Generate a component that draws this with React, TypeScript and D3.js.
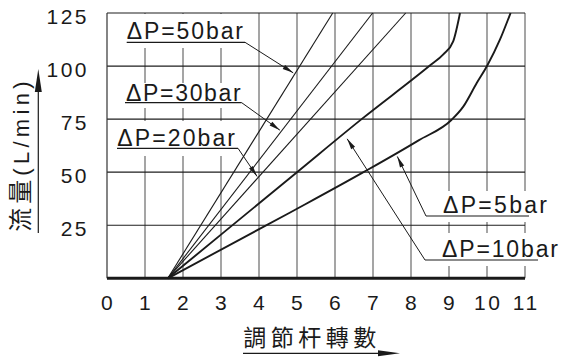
import React from 'react';
import * as d3 from 'd3';

// ---- data ----
const xTicks = [0, 1, 2, 3, 4, 5, 6, 7, 8, 9, 10, 11];
const yTicks = [25, 50, 75, 100, 125];

const s50: [number, number][] = [[1.6, 0], [5.94, 125]];
const s30: [number, number][] = [[1.6, 0], [6.99, 125]];
const s20: [number, number][] = [[1.6, 0], [7.86, 125]];
const s10: [number, number][] = [[1.6, 0], [5.0, 50], [6.7, 75], [8.48, 100], [8.85, 105.5], [9.11, 111.6], [9.29, 125]];
const s5: [number, number][] = [[1.6, 0], [4.82, 31], [6.75, 50], [8.2, 65], [9.07, 74.7], [9.38, 81], [9.73, 92], [10.0, 100], [10.34, 112.4], [10.62, 125]];

const seriesNames = ['ΔP=50bar', 'ΔP=30bar', 'ΔP=20bar', 'ΔP=10bar', 'ΔP=5bar'];
// arrow tips in data coordinates
const tips: [number, number][] = [[4.9, 96.8], [4.55, 69.8], [3.95, 48], [6.32, 65.7], [7.64, 57.4]];

const xLabel = '調節杆轉數';
const yLabelCJK = '流量';
const yLabelUnit = '(L/min)';

// ---- layout ----
const W = 564, H = 357;
const L = 107, R = 525, T = 13, B = 278.3;
const FONT = '"Liberation Sans", Arial, "Noto Sans CJK TC", sans-serif';
const CJK = '"Noto Sans CJK TC", "Noto Sans CJK SC", sans-serif';

const x = d3.scaleLinear().domain([0, 11]).range([L, R]);
const y = d3.scaleLinear().domain([0, 125]).range([B, T]);

const lineGen = d3.line<[number, number]>().x(d => x(d[0])).y(d => y(d[1])).curve(d3.curveMonotoneX);

// label layout (pixels)
const labelLayout = [
  { tx: 126.7, ty: 39.3, tl: 116.3, ux1: 126.7, ux2: 245, uy: 42.3, sx: 245, box: [118, 14, 132, 34] },
  { tx: 126, ty: 100.7, tl: 114.7, ux1: 125, ux2: 241.7, uy: 102.7, sx: 241.7, box: [118, 83, 128, 25] },
  { tx: 117.3, ty: 146, tl: 117.7, ux1: 117, ux2: 238, uy: 148.3, sx: 238, box: [112, 121, 130, 35] },
  { tx: 442, ty: 257, tl: 116, ux1: 425, ux2: 538, uy: 260, sx: 425, box: [420, 233, 142, 33] },
  { tx: 443, ty: 213.3, tl: 104, ux1: 426, ux2: 529, uy: 216, sx: 426, box: [421, 191, 130, 31] },
];

function arrowHead(sx: number, sy: number, tx: number, ty: number, len: number, hw: number) {
  const dx = tx - sx, dy = ty - sy;
  const d = Math.sqrt(dx * dx + dy * dy);
  const ux = dx / d, uy = dy / d;
  const bx = tx - ux * len, by = ty - uy * len;
  const px = -uy * hw, py = ux * hw;
  return `M${tx},${ty}L${bx + px},${by + py}L${bx - px},${by - py}Z`;
}

export default function App() {
  const series = [s50, s30, s20, s10, s5];
  const widths = [1.1, 1.1, 1.1, 1.9, 1.9];
  return (
    <svg width={W} height={H} style={{ position: 'absolute', left: 0, top: 0, background: '#fff' }}>
      <rect x={0} y={0} width={W} height={H} fill="#fff" />
      {/* vertical grid */}
      {xTicks.filter(t => t > 0).map(t => (
        <line key={'v' + t} x1={x(t)} x2={x(t)} y1={T} y2={B} stroke="#8f8f8f" strokeWidth={1.6} />
      ))}
      {/* white label boxes */}
      {labelLayout.map((lb, i) => (
        <rect key={'b' + i} x={lb.box[0]} y={lb.box[1]} width={lb.box[2]} height={lb.box[3]} fill="#fff" />
      ))}
      {/* horizontal grid */}
      {yTicks.map(t => (
        <line key={'h' + t} x1={L} x2={R} y1={y(t)} y2={y(t)} stroke="#1e1e1e" strokeWidth={1.2} />
      ))}
      <line x1={L} x2={L} y1={T} y2={B} stroke="#333" strokeWidth={1.2} />
      <line x1={L} x2={R} y1={B} y2={B} stroke="#1a1a1a" strokeWidth={3} />

      {/* series */}
      {series.map((s, i) => (
        <path key={'s' + i} d={lineGen(s) || ''} fill="none" stroke="#1a1a1a" strokeWidth={widths[i]} />
      ))}

      {/* annotations */}
      {labelLayout.map((lb, i) => {
        const tx = x(tips[i][0]), ty = y(tips[i][1]);
        return (
          <g key={'a' + i}>
            <text x={lb.tx} y={lb.ty} fontFamily={FONT} fontSize={23} fill="#1a1a1a"
              textLength={lb.tl} lengthAdjust="spacing">{seriesNames[i]}</text>
            <line x1={lb.ux1} x2={lb.ux2} y1={lb.uy} y2={lb.uy} stroke="#1a1a1a" strokeWidth={1.2} />
            <line x1={lb.sx} y1={lb.uy} x2={tx} y2={ty} stroke="#1a1a1a" strokeWidth={1} />
            <path d={arrowHead(lb.sx, lb.uy, tx, ty, 11, 2.3)} fill="#1a1a1a" />
          </g>
        );
      })}

      {/* y tick labels */}
      {yTicks.map(t => (
        <text key={'yl' + t} x={89} y={y(t) + 10.5} textAnchor="end" fontFamily={FONT} fontSize={21}
          letterSpacing={2.5} fill="#1a1a1a">{t}</text>
      ))}
      {/* x tick labels */}
      {xTicks.map(t => (
        <text key={'xl' + t} x={x(t) + 1.2} y={310} textAnchor="middle" fontFamily={FONT} fontSize={21}
          letterSpacing={2.5} fill="#1a1a1a">{t}</text>
      ))}

      {/* x axis title */}
      <text x={243.3} y={346} fontFamily={CJK} fontSize={23} fill="#1a1a1a" textLength={133}
        lengthAdjust="spacing">{xLabel}</text>
      <line x1={243} x2={390} y1={353.3} y2={353.3} stroke="#1a1a1a" strokeWidth={1.2} />
      <path d={arrowHead(243, 353.3, 400, 353.3, 22, 3)} fill="#1a1a1a" />

      {/* y axis title */}
      <text transform="translate(28.5,231.7) rotate(-90)" fill="#1a1a1a" letterSpacing={4}>
        <tspan fontFamily={CJK} fontSize={24}>{yLabelCJK}</tspan>
        <tspan fontFamily={FONT} fontSize={22} letterSpacing={4.3}>{yLabelUnit}</tspan>
      </text>
      <line x1={38.3} x2={38.3} y1={233} y2={80} stroke="#1a1a1a" strokeWidth={1.2} />
      <path d={arrowHead(38.3, 233, 38.3, 69, 23, 3.5)} fill="#1a1a1a" />
    </svg>
  );
}
